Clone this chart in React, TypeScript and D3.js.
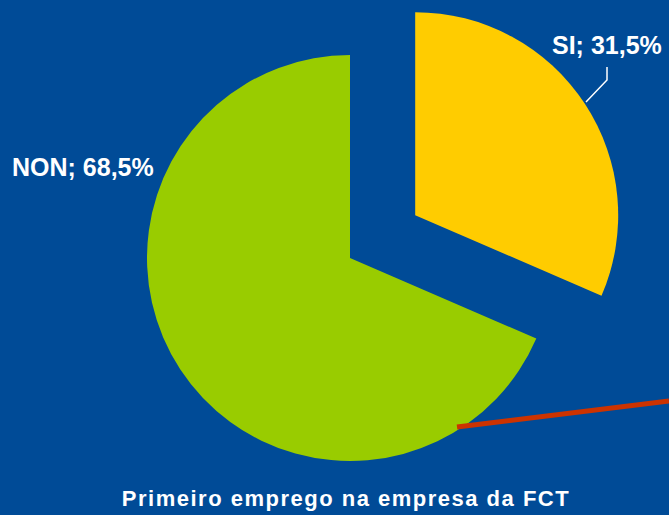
import { useEffect, useRef } from 'react';
import * as d3 from 'd3';

const categories = ['SI', 'NON'];
const values = [31.5, 68.5];
const colors = ['#FFCC00', '#99CC00'];
const title = 'Primeiro emprego na empresa da FCT';

const App = () => {
  const svgRef = useRef<SVGSVGElement | null>(null);

  useEffect(() => {
    const width = 669;
    const height = 515;
    const cx = 350;
    const cy = 258;
    const radius = 203;
    const explode = 78;

    const svg = d3.select(svgRef.current)
      .attr('width', width)
      .attr('height', height);

    svg.selectAll('*').remove();

    svg.append('rect')
      .attr('width', width)
      .attr('height', height)
      .attr('fill', '#004B97');

    const data = categories.map((c, i) => ({ name: c, value: values[i], color: colors[i] }));

    const pie = d3.pie<any>()
      .sort(null)
      .value(d => d.value);

    const arc = d3.arc<any>()
      .innerRadius(0)
      .outerRadius(radius);

    const arcs = pie(data);

    const g = svg.append('g')
      .attr('transform', `translate(${cx},${cy})`);

    g.selectAll('.slice')
      .data(arcs)
      .enter().append('path')
      .attr('class', 'slice')
      .attr('fill', d => d.data.color)
      .attr('transform', (d, i) => {
        if (i !== 0) return null;
        const mid = (d.startAngle + d.endAngle) / 2;
        return `translate(${explode * Math.sin(mid)},${-explode * Math.cos(mid)})`;
      })
      .attr('d', arc);

    // red decoration line
    svg.append('line')
      .attr('x1', 457).attr('y1', 427)
      .attr('x2', 669).attr('y2', 401)
      .attr('stroke', '#CC3300')
      .attr('stroke-width', 5);

    // leader line for SI
    svg.append('polyline')
      .attr('points', '607,67 607,80 586,102')
      .attr('fill', 'none')
      .attr('stroke', '#FFFFFF')
      .attr('stroke-width', 1.5);

    const labelStyle = (sel: any) => sel
      .attr('fill', '#FFFFFF')
      .attr('font-family', 'Liberation Sans, Arial, sans-serif')
      .attr('font-weight', 'bold')
      .attr('font-size', 25);

    svg.append('text')
      .attr('x', 552).attr('y', 54)
      .call(labelStyle)
      .text(`${data[0].name}; ${data[0].value.toFixed(1).replace('.', ',')}%`);

    svg.append('text')
      .attr('x', 12).attr('y', 176)
      .call(labelStyle)
      .text(`${data[1].name}; ${data[1].value.toFixed(1).replace('.', ',')}%`);

    svg.append('text')
      .attr('x', 346).attr('y', 506)
      .attr('text-anchor', 'middle')
      .attr('fill', '#FFFFFF')
      .attr('font-family', 'Liberation Sans, Arial, sans-serif')
      .attr('font-weight', 'bold')
      .attr('font-size', 22)
      .attr('letter-spacing', 1.5)
      .text(title);
  }, []);

  return (
    <div style={{ position: 'absolute', left: 0, top: 0 }}>
      <svg ref={svgRef} style={{ display: 'block' }}></svg>
    </div>
  );
};

export default App;
